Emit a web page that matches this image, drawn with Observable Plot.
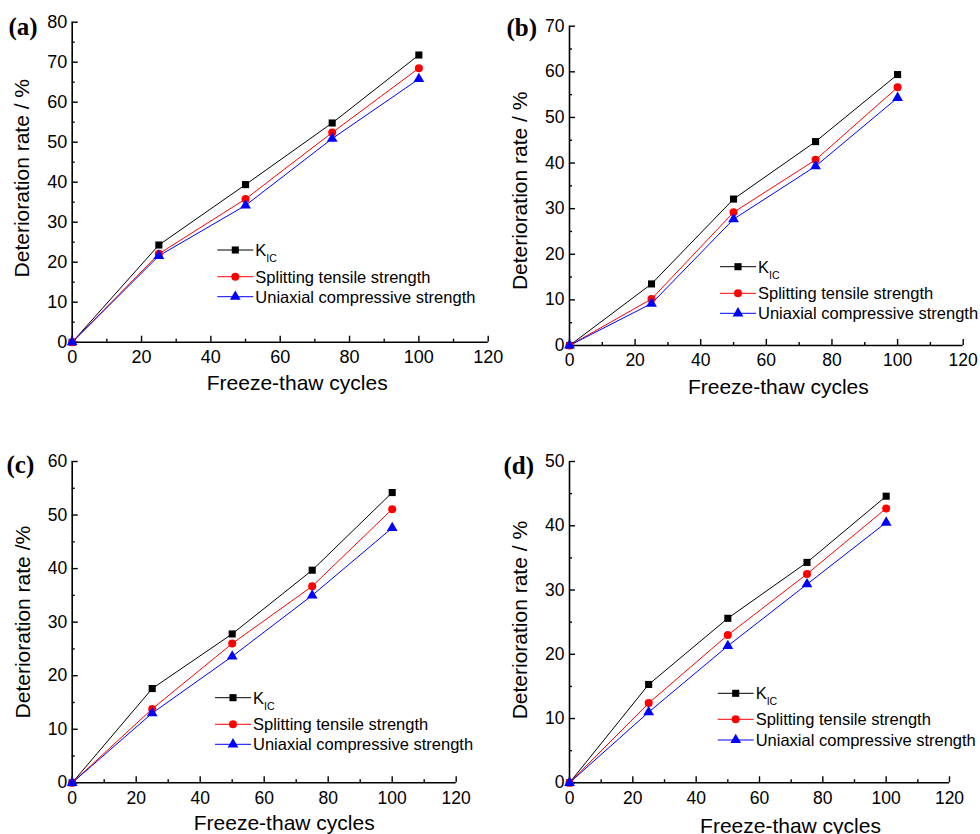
<!DOCTYPE html>
<html><head><meta charset="utf-8">
<script src="https://cdn.jsdelivr.net/npm/d3@7"></script>
<script src="https://cdn.jsdelivr.net/npm/@observablehq/plot@0.6"></script>
<style>
body{margin:0;background:#fff;}
#wrap{position:relative;width:980px;height:834px;overflow:hidden;background:#fff;}
.panel{position:absolute;}
.panel svg{overflow:visible;background:transparent;}
#overlay{position:absolute;left:0;top:0;pointer-events:none;}
</style></head><body><div id="wrap"></div>
<script>
// ---- data ----
const cycles = [0, 25, 50, 75, 100];
const seriesNames = ["KIC", "Splitting tensile strength", "Uniaxial compressive strength"];
const seriesColors = ["black", "red", "blue"];
const seriesSymbols = ["square", "circle", "triangle"];
const xTicksMajor = [0, 20, 40, 60, 80, 100, 120];
const xTicksMinor = [10, 30, 50, 70, 90, 110];
const xLabel = "Freeze-thaw cycles";

// (a)
const kicA   = [0, 24.3, 39.4, 54.8, 71.8];
const splitA = [0, 22.1, 35.8, 52.4, 68.5];
const ucsA   = [0, 21.6, 34.2, 50.9, 65.8];
// (b)
const kicB   = [0, 13.5, 32.1, 44.7, 59.4];
const splitB = [0, 10.2, 29.2, 40.7, 56.6];
const ucsB   = [0, 9.2, 27.7, 39.3, 54.3];
// (c)
const kicC   = [0, 17.6, 27.8, 39.7, 54.2];
const splitC = [0, 13.8, 26.0, 36.7, 51.1];
const ucsC   = [0, 13.0, 23.6, 35.0, 47.6];
// (d)
const kicD   = [0, 15.3, 25.6, 34.3, 44.6];
const splitD = [0, 12.4, 23.0, 32.5, 42.7];
const ucsD   = [0, 11.0, 21.3, 30.9, 40.5];

const yMaxes = [80, 70, 60, 50];
const yLabels = ["Deterioration rate / %", "Deterioration rate / %", "Deterioration rate /%", "Deterioration rate / %"];
const panelTags = ["(a)", "(b)", "(c)", "(d)"];

// ---- layout ----
const panels = [
  {tag: panelTags[0], values: [kicA, splitA, ucsA], ymax: yMaxes[0], ylabel: yLabels[0], fs: 18,
   left: 0, top: 0, w: 500, h: 400, mL: 71.7, mR: 12.3, mT: 21.7, mB: 58.3,
   xdx: 17, xdy: 33, ydx: -58.5, ydy: -4,
   tagX: 8.5, tagY: 35, legX: 217.3, legY: [250, 276.7, 296.7]},
  {tag: panelTags[1], values: [kicB, splitB, ucsB], ymax: yMaxes[1], ylabel: yLabels[1], fs: 17.5,
   left: 490, top: 0, w: 490, h: 400, mL: 79, mR: 17.3, mT: 25.7, mB: 55,
   xdx: 12, xdy: 34, ydx: -57.3, ydy: 5,
   tagX: 506.5, tagY: 36, legX: 720, legY: [266.7, 293.3, 313.3]},
  {tag: panelTags[2], values: [kicC, splitC, ucsC], ymax: yMaxes[2], ylabel: yLabels[2], fs: 17.5,
   left: 0, top: 440, w: 490, h: 394, mL: 71.7, mR: 34.3, mT: 21, mB: 51.7,
   xdx: 20, xdy: 32, ydx: -56.7, ydy: 0,
   tagX: 6.5, tagY: 473, legX: 215, legY: [697.7, 724.3, 744.3]},
  {tag: panelTags[3], values: [kicD, splitD, ucsD], ymax: yMaxes[3], ylabel: yLabels[3], fs: 17.5,
   left: 490, top: 440, w: 490, h: 394, mL: 79, mR: 31, mT: 21, mB: 51.7,
   xdx: 31, xdy: 35, ydx: -57.3, ydy: -2,
   tagX: 503.5, tagY: 474, legX: 717.7, legY: [693.3, 719.3, 740]}
];

const FONT = "'Liberation Sans', Arial, sans-serif";
const wrap = document.getElementById("wrap");

for (const p of panels) {
  const rows = [];
  seriesNames.forEach((s, si) => cycles.forEach((c, i) => rows.push({series: s, x: c, y: p.values[si][i]})));
  const yMajor = d3.range(0, p.ymax + 1, 10);
  const yMinor = d3.range(5, p.ymax, 10);
  const chart = Plot.plot({
    width: p.w, height: p.h,
    marginLeft: p.mL, marginRight: p.mR, marginTop: p.mT, marginBottom: p.mB,
    style: {fontFamily: FONT, fontSize: p.fs + "px", color: "black", background: "transparent", overflow: "visible"},
    x: {domain: [0, 120]},
    y: {domain: [0, p.ymax]},
    color: {domain: seriesNames, range: seriesColors},
    symbol: {domain: seriesNames, range: seriesSymbols},
    marks: [
      Plot.axisX(xTicksMajor, {tickSize: -6, tickPadding: 14.5, fontSize: p.fs, label: null, strokeWidth: 1.4}),
      Plot.axisX(xTicksMinor, {tickSize: -3, tickFormat: () => "", label: null, strokeWidth: 1.4}),
      Plot.axisY(yMajor, {tickSize: -6, tickPadding: 11, fontSize: p.fs, label: null, strokeWidth: 1.4}),
      Plot.axisY(yMinor, {tickSize: -3, tickFormat: () => "", label: null, strokeWidth: 1.4}),
      Plot.ruleY([0], {strokeWidth: 1.6}),
      Plot.ruleX([0], {strokeWidth: 1.6}),
      Plot.text([xLabel], {text: d => d, frameAnchor: "bottom", lineAnchor: "top", textAnchor: "middle", dx: p.xdx, dy: p.xdy, fontSize: 21}),
      Plot.text([p.ylabel], {text: d => d, frameAnchor: "left", rotate: -90, lineAnchor: "top", textAnchor: "middle", dx: p.ydx, dy: p.ydy, fontSize: 21}),
      Plot.line(rows, {x: "x", y: "y", z: "series", stroke: "series", strokeWidth: 1}),
      Plot.dot(rows, {x: "x", y: "y", symbol: "series", fill: "series", r: 4, stroke: null})
    ]
  });
  const div = document.createElement("div");
  div.className = "panel";
  div.style.left = p.left + "px";
  div.style.top = p.top + "px";
  div.style.width = p.w + "px";
  div.appendChild(chart);
  wrap.appendChild(div);
}

// ---- overlay: panel tags and legends ----
const svg = d3.select(wrap).append("svg").attr("id", "overlay").attr("width", 980).attr("height", 834);
const symbolTypes = [d3.symbolSquare, d3.symbolCircle, d3.symbolTriangle];
for (const p of panels) {
  svg.append("text").attr("x", p.tagX).attr("y", p.tagY)
    .attr("font-family", "'Liberation Serif', 'Times New Roman', serif")
    .attr("font-weight", "bold").attr("font-size", 25).text(p.tag);
  seriesNames.forEach((s, si) => {
    const y = p.legY[si];
    const g = svg.append("g");
    g.append("line").attr("x1", p.legX).attr("x2", p.legX + 36).attr("y1", y).attr("y2", y)
      .attr("stroke", seriesColors[si]).attr("stroke-width", 1);
    g.append("path").attr("transform", `translate(${p.legX + 18},${y})`)
      .attr("d", d3.symbol().type(symbolTypes[si]).size(Math.PI * 16)()).attr("fill", seriesColors[si]);
    const t = g.append("text").attr("x", p.legX + 38).attr("y", y + 6)
      .attr("font-family", FONT).attr("font-size", 16.5);
    if (si === 0) {
      t.append("tspan").text("K");
      t.append("tspan").attr("font-size", 10.5).attr("dy", 6).text("IC");
    } else {
      t.text(s);
    }
  });
}
</script>
</body></html>
